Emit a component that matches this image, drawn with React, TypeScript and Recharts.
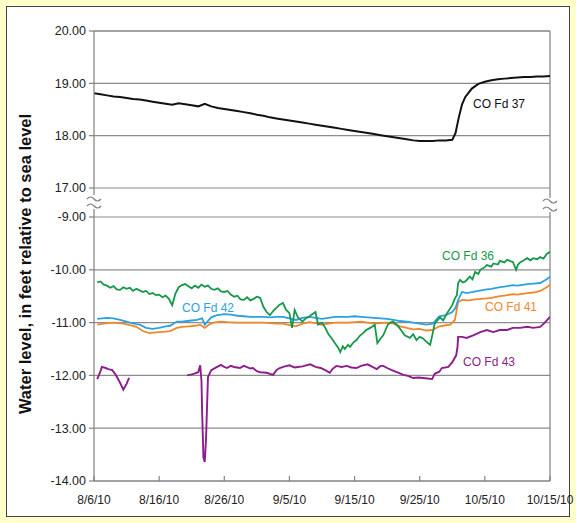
import React from 'react';
import { LineChart, Line, XAxis, YAxis, CartesianGrid, ReferenceLine } from 'recharts';

// days since 8/6/10
const dateTicks = [0, 10, 20, 30, 40, 50, 60, 70];
const dateLabels = ['8/6/10', '8/16/10', '8/26/10', '9/5/10', '9/15/10', '9/25/10', '10/5/10', '10/15/10'];
const upperTicks = [17, 18, 19, 20];
const lowerTicks = [-14, -13, -12, -11, -10, -9];

type Pt = [number, number | null];

const fd37: Pt[] = [
  [0, 18.81], [1, 18.79], [2, 18.77], [3, 18.75], [4, 18.74], [5, 18.72], [6, 18.7], [7, 18.69],
  [8, 18.67], [9, 18.65], [10, 18.63], [11, 18.61], [12, 18.59], [13, 18.62], [14, 18.6], [15, 18.58],
  [16, 18.56], [17, 18.61], [18, 18.56], [19, 18.53], [20, 18.51], [21, 18.49], [22, 18.47], [23, 18.45],
  [24, 18.43], [25, 18.4], [26, 18.38], [27, 18.35], [28, 18.33], [29, 18.31], [30, 18.29], [31, 18.27],
  [32, 18.25], [33, 18.23], [34, 18.21], [35, 18.19], [36, 18.17], [37, 18.15], [38, 18.13], [39, 18.11],
  [40, 18.09], [41, 18.07], [42, 18.05], [43, 18.03], [44, 18.01], [45, 17.99], [46, 17.97], [47, 17.95],
  [48, 17.93], [49, 17.91], [50, 17.9], [51, 17.9], [52, 17.9], [53, 17.91], [54, 17.91], [55, 17.92],
  [55.5, 18.05], [56, 18.35], [56.5, 18.6], [57, 18.74], [58, 18.9], [59, 18.99], [60, 19.03], [61, 19.06],
  [62, 19.08], [63, 19.09], [64, 19.1], [65, 19.11], [66, 19.12], [67, 19.12], [68, 19.13], [69, 19.13], [70, 19.14],
];

const fd36: Pt[] = [
  [0.5, -10.24], [1, -10.22], [1.5, -10.28], [2, -10.3], [2.5, -10.34], [3, -10.31], [3.5, -10.37], [4, -10.38],
  [4.5, -10.33], [5, -10.36], [5.5, -10.34], [6, -10.4], [6.5, -10.36], [7, -10.39], [7.5, -10.42], [8, -10.4],
  [8.5, -10.46], [9, -10.44], [9.5, -10.48], [10, -10.47], [10.5, -10.52], [11, -10.49], [11.5, -10.55], [12, -10.67],
  [12.5, -10.45], [13, -10.33], [13.5, -10.29], [14, -10.27], [14.5, -10.31], [15, -10.35], [15.5, -10.3], [16, -10.34],
  [16.5, -10.28], [17, -10.32], [17.5, -10.3], [18, -10.36], [18.5, -10.38], [19, -10.35], [19.5, -10.41], [20, -10.42],
  [20.5, -10.4], [21, -10.47], [21.5, -10.51], [22, -10.49], [22.5, -10.56], [23, -10.57], [23.5, -10.52], [24, -10.58],
  [24.5, -10.55], [25, -10.51], [25.5, -10.53], [26, -10.7], [26.5, -10.8], [27, -10.86], [27.5, -10.78], [28, -10.72],
  [28.5, -10.66], [29, -10.63], [29.5, -10.76], [30, -10.82], [30.4, -11.1], [30.8, -10.76], [31.3, -10.9], [32, -10.98],
  [32.5, -10.92], [33, -10.89], [33.5, -10.84], [34, -10.8], [34.4, -11.04], [35, -11.0], [35.5, -11.1], [36, -11.22],
  [36.5, -11.3], [37, -11.39], [37.5, -11.48], [37.8, -11.56], [38.2, -11.45], [38.5, -11.5], [39, -11.42], [39.3, -11.46],
  [39.8, -11.38], [40.3, -11.33], [40.8, -11.25], [41.3, -11.2], [41.8, -11.14], [42.4, -11.1], [43.1, -11.04], [43.5, -11.39],
  [44, -11.3], [44.4, -11.24], [45.1, -11.04], [45.5, -11.0], [45.9, -10.98], [46.5, -11.05], [47, -11.12], [47.7, -11.24],
  [48.5, -11.29], [49, -11.22], [49.5, -11.33], [50, -11.27], [50.5, -11.3], [51, -11.36], [51.6, -11.42], [52, -11.2],
  [52.3, -11.02], [53.1, -10.9], [53.6, -10.96], [54.2, -10.82], [55, -10.67], [55.4, -10.54], [55.7, -10.48], [55.9, -10.25],
  [56.2, -10.19], [56.6, -10.24], [57, -10.22], [57.7, -10.13], [58.1, -10.18], [58.5, -10.04], [59, -10.08], [59.3, -10.0],
  [60, -9.95], [60.3, -9.91], [61, -9.94], [61.3, -9.88], [62, -9.9], [62.3, -9.83], [63, -9.86], [63.4, -9.81],
  [64, -9.84], [64.3, -9.85], [64.8, -10.0], [65.1, -9.9], [65.4, -9.86], [66, -9.82], [66.5, -9.78], [67, -9.82],
  [67.4, -9.78], [68, -9.8], [68.5, -9.76], [69, -9.79], [69.5, -9.7], [70, -9.66],
];

const fd42: Pt[] = [
  [0.5, -10.93], [2, -10.91], [3, -10.92], [4, -10.95], [5, -10.98], [5.5, -11.0], [6.5, -11.03], [7, -11.04],
  [8, -11.1], [9, -11.12], [10, -11.1], [11, -11.07], [11.7, -11.06], [12.7, -10.98], [13.5, -10.98], [14.3, -10.97],
  [15, -10.96], [15.8, -10.95], [16.6, -10.92], [17, -11.04], [17.4, -10.98], [18, -10.9], [18.9, -10.86], [19.5, -10.85],
  [20, -10.84], [21, -10.85], [22, -10.87], [23, -10.88], [24, -10.89], [25, -10.89], [26, -10.89], [27, -10.9],
  [28, -10.89], [29, -10.89], [30, -10.92], [31, -10.95], [32, -10.91], [33, -10.89], [34, -10.91], [35, -10.93],
  [36, -10.91], [37, -10.89], [38, -10.89], [39, -10.89], [40, -10.88], [41, -10.89], [42, -10.9], [43, -10.91],
  [44, -10.92], [45, -10.93], [46, -10.95], [47, -10.97], [48, -10.98], [49, -11.0], [50, -11.02], [51, -11.04],
  [52, -11.02], [53, -10.88], [54, -10.86], [55, -10.8], [55.5, -10.72], [55.9, -10.57], [56.5, -10.42], [57.2, -10.44],
  [58.2, -10.42], [59, -10.4], [60.3, -10.37], [61, -10.36], [62.3, -10.33], [63, -10.32], [64.3, -10.29], [65, -10.3],
  [66.5, -10.27], [67.5, -10.26], [68.5, -10.25], [69.5, -10.18], [70, -10.13],
];

const fd41: Pt[] = [
  [0.5, -11.04], [2, -11.01], [3, -11.0], [4.5, -11.02], [5.5, -11.05], [6.5, -11.08], [7.5, -11.16], [8.5, -11.2],
  [9, -11.19], [10, -11.18], [11, -11.17], [11.7, -11.16], [12.7, -11.1], [13.5, -11.08], [14.6, -11.07], [15.5, -11.06],
  [16.3, -11.04], [17, -11.1], [17.5, -11.05], [18.3, -11.0], [19.5, -10.98], [20.5, -10.99], [22, -11.0], [23, -11.0],
  [24, -11.0], [25, -11.0], [26, -11.0], [27, -11.01], [28, -11.02], [29, -11.02], [30, -11.05], [31, -11.07],
  [32, -11.02], [33, -10.99], [34, -11.01], [35, -11.04], [36, -11.02], [37, -11.0], [38, -11.0], [39, -11.0],
  [40, -10.99], [41, -10.98], [42, -11.0], [43, -11.02], [44, -11.01], [45, -11.0], [46, -11.02], [47, -11.07],
  [48, -11.1], [49, -11.13], [50, -11.12], [51, -11.15], [52, -11.14], [53, -11.07], [54, -11.05], [54.7, -11.04],
  [55.4, -10.95], [55.9, -10.61], [56.5, -10.57], [57.5, -10.58], [58.5, -10.56], [60.3, -10.54], [61, -10.53], [62.3, -10.5],
  [63, -10.49], [64.3, -10.46], [65, -10.47], [66.5, -10.44], [67.5, -10.43], [68.5, -10.4], [69.5, -10.33], [70, -10.28],
];

const fd43: Pt[] = [
  [0.5, -12.07], [1, -11.92], [1.2, -11.84], [1.8, -11.86], [2.2, -11.88], [2.8, -11.9], [3.3, -11.98], [4, -12.14],
  [4.5, -12.27], [5, -12.16], [5.2, -12.1], [5.4, -12.05], [6, null],
  [14.3, -12.0], [15, -11.98], [15.3, -11.97], [16, -11.94], [16.3, -11.81], [16.5, -12.1], [16.6, -12.7], [16.8, -13.55],
  [17, -13.64], [17.2, -13.2], [17.35, -12.6], [17.5, -12.03], [18, -11.9], [18.9, -11.84], [19.5, -11.8], [20, -11.84],
  [20.4, -11.86], [21, -11.82], [21.5, -11.84], [22.4, -11.86], [23, -11.82], [23.4, -11.84], [24, -11.87], [24.4, -11.86],
  [25, -11.92], [25.5, -11.94], [26.5, -11.95], [27.5, -11.99], [28, -11.9], [28.5, -11.86], [29.3, -11.83], [30, -11.81],
  [30.8, -11.85], [31.3, -11.84], [32, -11.83], [33.2, -11.79], [34, -11.84], [34.8, -11.86], [35.5, -11.9], [36.2, -11.95],
  [36.6, -11.88], [37.2, -11.82], [38, -11.84], [38.8, -11.82], [39.5, -11.85], [40.3, -11.86], [41, -11.82], [42, -11.79],
  [42.6, -11.83], [43.4, -11.88], [44, -11.82], [44.4, -11.82], [45, -11.86], [45.9, -11.91], [46.5, -11.94], [47.5, -11.99],
  [48.2, -12.01], [49, -12.05], [49.8, -12.04], [50.5, -12.05], [51.2, -12.06], [51.9, -12.07], [52.3, -11.97], [53, -11.93],
  [53.4, -11.86], [54.4, -11.84], [55, -11.75], [55.6, -11.62], [55.8, -11.46], [55.9, -11.27], [56.5, -11.27], [57.2, -11.29],
  [58.2, -11.24], [59.3, -11.18], [60.3, -11.14], [61.3, -11.18], [62.3, -11.14], [63.4, -11.14], [64.3, -11.1], [65.4, -11.1],
  [66.5, -11.08], [67.4, -11.1], [68.5, -11.08], [69.2, -11.0], [70, -10.89],
];

const rows = (pts: Pt[]) => pts.map(([d, v]) => ({ d, v }));

const FONT = '"Liberation Sans", Arial, sans-serif';
const AXIS = '#808080';
const GRID = '#8c8c8c';

const fmt = (v: number) => v.toFixed(2);
const dateFmt = (v: number) => dateLabels[dateTicks.indexOf(v)] ?? '';

export default function App() {
  return (
    <div style={{ position: 'absolute', left: 0, top: 0, width: 576, height: 523, background: '#FFFFCC', fontFamily: FONT }}>
      <div style={{ position: 'absolute', left: 6, top: 6, width: 564, height: 511, background: '#fff', border: '1px solid #444', boxSizing: 'border-box' }} />

      <div style={{ position: 'absolute', left: 0, top: 0 }}>
        <LineChart width={576} height={200} margin={{ top: 30, right: 26, bottom: 12, left: 0 }}>
          <CartesianGrid vertical={false} stroke={GRID} strokeWidth={1.2} />
          <XAxis dataKey="d" type="number" domain={[0, 70]} ticks={dateTicks} orientation="top" height={1}
            tick={false} tickSize={-4} stroke={AXIS} strokeWidth={1.2} allowDataOverflow />
          <YAxis type="number" domain={[17, 20]} ticks={upperTicks} width={94} tickFormatter={fmt}
            tick={{ fill: '#222', fontSize: 12.5, fontFamily: FONT }} tickSize={5} tickMargin={3} stroke={AXIS} strokeWidth={1.2} allowDataOverflow />
          <ReferenceLine x={70} stroke={AXIS} strokeWidth={1.2} />
          <Line data={rows(fd37)} dataKey="v" type="linear" stroke="#111" strokeWidth={2} dot={false} isAnimationActive={false} />
        </LineChart>
      </div>

      <div style={{ position: 'absolute', left: 0, top: 200 }}>
        <LineChart width={576} height={323} margin={{ top: 17, right: 26, bottom: 12, left: 0 }}>
          <CartesianGrid vertical={false} stroke={GRID} strokeWidth={1.2} />
          <XAxis dataKey="d" type="number" domain={[0, 70]} ticks={dateTicks} height={30} interval={0}
            tickFormatter={dateFmt} tick={{ fill: '#222', fontSize: 12, fontFamily: FONT }}
            tickSize={-5} tickMargin={19} stroke={AXIS} strokeWidth={1.2} allowDataOverflow />
          <YAxis type="number" domain={[-14, -9]} ticks={lowerTicks} width={94} tickFormatter={fmt}
            tick={{ fill: '#222', fontSize: 12.5, fontFamily: FONT }} tickSize={5} tickMargin={3} stroke={AXIS} strokeWidth={1.2} allowDataOverflow />
          <ReferenceLine x={70} stroke={AXIS} strokeWidth={1.2} />
          <Line data={rows(fd41)} dataKey="v" type="linear" stroke="#F0882A" strokeWidth={1.8} dot={false} isAnimationActive={false} />
          <Line data={rows(fd42)} dataKey="v" type="linear" stroke="#2AA2E2" strokeWidth={1.8} dot={false} isAnimationActive={false} />
          <Line data={rows(fd36)} dataKey="v" type="linear" stroke="#16984A" strokeWidth={1.8} dot={false} isAnimationActive={false} />
          <Line data={rows(fd43)} dataKey="v" type="linear" stroke="#8E1C8C" strokeWidth={1.9} dot={false} isAnimationActive={false} connectNulls={false} />
        </LineChart>
      </div>

      <svg width={576} height={523} style={{ position: 'absolute', left: 0, top: 0, pointerEvents: 'none' }} fontFamily={FONT}>
        {/* axis break marks */}
        <g stroke={AXIS} strokeWidth={1.2} fill="none">
          <path d="M94,188 V195 M94,209 V217" />
          <path d="M87,199 q3.5,-4 7,0 t7,0" />
          <path d="M87,206 q3.5,-4 7,0 t7,0" />
          <path d="M550,188 V198 M550,212 V217" />
          <path d="M543,201 q3.5,-4 7,0 t7,0" />
          <path d="M543,209 q3.5,-4 7,0 t7,0" />
        </g>
        <text x={473} y={104} fontSize={12} fill="#111" dominantBaseline="central">CO Fd 37</text>
        <text x={442} y={256} fontSize={12} fill="#16984A" dominantBaseline="central">CO Fd 36</text>
        <text x={182} y={308} fontSize={12} fill="#2AA2E2" dominantBaseline="central">CO Fd 42</text>
        <text x={485} y={307} fontSize={12} fill="#F0882A" dominantBaseline="central">CO Fd 41</text>
        <text x={463} y={362} fontSize={12} fill="#8E1C8C" dominantBaseline="central">CO Fd 43</text>
        <text x={25} y={264} fontSize={16.5} fontWeight="bold" fill="#111" textAnchor="middle" dominantBaseline="central"
          transform="rotate(-90 25 264)">Water level, in feet relative to sea level</text>
      </svg>
    </div>
  );
}
